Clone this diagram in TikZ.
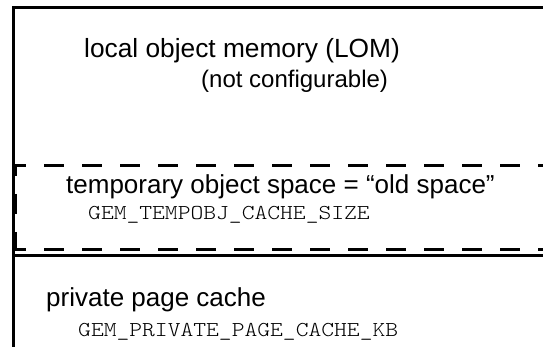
\documentclass[tikz,border=0pt]{standalone}
\usepackage{fontspec}
\setmainfont{Liberation Sans}
\setmonofont{Latin Modern Mono Light}[FakeStretch=1.15]
\tikzset{
  solidline/.style={line width=3pt, line join=miter, black},
  dashline/.style={line width=3pt, black, dash pattern=on 20pt off 18pt},
  bigtxt/.style={anchor=base west, inner sep=0pt, font=\fontsize{26}{30}\selectfont},
  midtxt/.style={anchor=base west, inner sep=0pt, font=\fontsize{24}{28}\selectfont},
  montxt/.style={anchor=base west, inner sep=0pt, font=\ttfamily\fontsize{21.2}{24}\selectfont}
}
\begin{document}
\begin{tikzpicture}[x=1pt,y=-1pt]
\useasboundingbox (0,0) rectangle (543,347);
% outer frame
\coordinate (tr) at (545,8);
\coordinate (tl) at (13.5,8);
\coordinate (bl) at (13.5,349);
\draw[solidline] (tr) -- (tl) -- (bl);
% dashed region
\coordinate (dtl) at (14,166);
\coordinate (dtr) at (545,166);
\coordinate (dbl) at (14,250);
\coordinate (dbr) at (545,250);
\coordinate (dlt) at (15.5,166);
\coordinate (dlb) at (15.5,250);
\draw[dashline, dash phase=8pt] (dtl) -- (dtr);
\draw[dashline, dash phase=8pt] (dbl) -- (dbr);
\draw[dashline, dash phase=10pt] (dlt) -- (dlb);
% solid separator
\coordinate (sl) at (12,255.5);
\coordinate (sr) at (545,255.5);
\draw[solidline] (sl) -- (sr);
% texts
\node[bigtxt, font=\fontsize{26.3}{30}\selectfont] (lom) at (84,58) {local object memory (LOM)};
\node[midtxt] (notcfg) at (201,88) {(not configurable)};
\node[bigtxt] (tmp) at (66,194) {temporary object space = “old space”};
\node[montxt] (tmpsz) at (88,220) {GEM\_TEMPOBJ\_CACHE\_SIZE};
\node[bigtxt] (ppc) at (46,306) {private page cache};
\node[montxt] (ppcsz) at (78,336) {GEM\_PRIVATE\_PAGE\_CACHE\_KB};
\end{tikzpicture}
\end{document}
